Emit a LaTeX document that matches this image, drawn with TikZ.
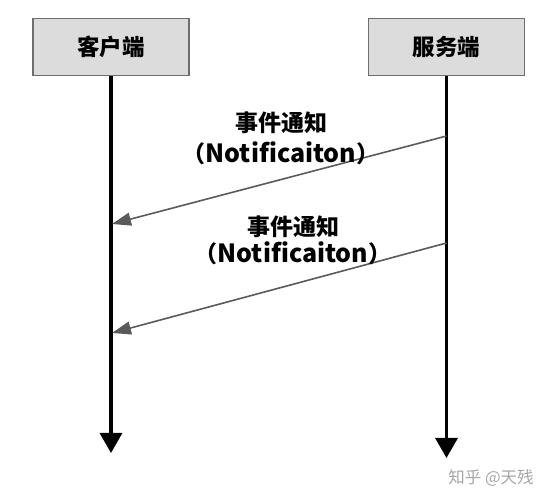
\documentclass[tikz,border=0pt]{standalone}
\usepackage{fontspec}
\setmainfont{Noto Sans CJK SC}
\usetikzlibrary{arrows.meta}
\definecolor{boxfill}{HTML}{DCDCDC}
\definecolor{boxline}{HTML}{6E6E6E}
\definecolor{msgline}{HTML}{5A5A5A}
\tikzset{
  actor/.style={draw=boxline, line width=1.5pt, fill=boxfill, minimum width=156pt, minimum height=57pt, inner sep=0pt, font=\fontsize{22.5}{26}\selectfont\bfseries},
  lifeline/.style={line width=3.2pt, draw=black, -{Triangle[length=20pt,width=22pt]}},
  msg/.style={line width=1.6pt, draw=msgline, -{Triangle[length=19pt,width=13pt,fill=msgline]}},
  lbl/.style={font=\fontsize{23}{27}\selectfont\bfseries, inner sep=0pt}
}
\begin{document}
\begin{tikzpicture}[x=1pt,y=-1pt]
\useasboundingbox (0,0) rectangle (549,502);
\node[actor] (client) at (111,47) {客户端};
\node[actor] (server) at (446.5,47) {服务端};
\coordinate (cend) at (111,453);
\coordinate (send) at (446.5,458);
\draw[lifeline] (client.south) -- (cend);
\draw[lifeline] (server.south) -- (send);
\coordinate (s1) at (446.5,136);
\coordinate (c1) at (112,224);
\coordinate (s2) at (446.5,243);
\coordinate (c2) at (112,333);
\draw[msg] (s1) -- (c1);
\draw[msg] (s2) -- (c2);
\node[lbl] (l1a) at (281,123) {事件通知};
\node[lbl] (l1b) at (281,153) {（{\fontsize{25}{27}\selectfont Notificaiton}）};
\node[lbl] (l2a) at (293,227) {事件通知};
\node[lbl] (l2b) at (293,253) {（{\fontsize{25}{27}\selectfont Notificaiton}）};
\node[font=\fontsize{16.5}{19}\selectfont, text=black!35, inner sep=0pt] (wm) at (491,478) {知乎 @天残};
\end{tikzpicture}
\end{document}
